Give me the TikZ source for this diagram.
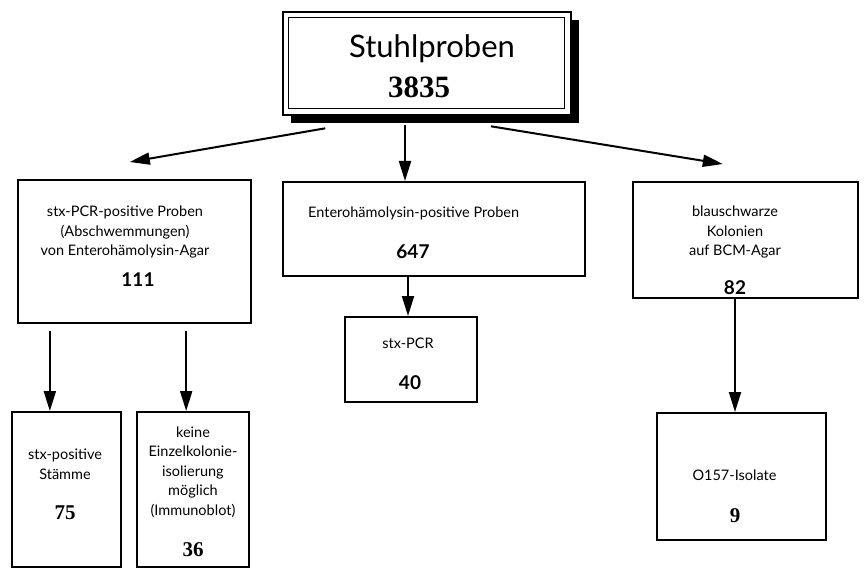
\documentclass[tikz,border=0pt]{standalone}
\usepackage{fontspec}
\setmainfont{Lato}
\newfontfamily\numserif{Liberation Serif}
\usetikzlibrary{arrows.meta,calc}
\tikzset{
  box/.style={draw=black, line width=2pt, fill=white, rectangle, inner sep=0pt},
  txt/.style={font=\fontsize{14.5}{19.5}\selectfont, align=center, inner sep=0pt},
  numsans/.style={font=\fontsize{19}{22}\selectfont\bfseries, inner sep=0pt},
  numser/.style={font=\fontsize{21}{22}\selectfont\numserif\bfseries, inner sep=0pt},
  arr/.style={line width=2pt, -{Triangle[length=20pt,width=12pt]}},
  shade/.style={fill=black},
}
\begin{document}
\begin{tikzpicture}[x=1pt,y=-1pt]
\useasboundingbox[fill=white] (0,0) rectangle (864,569);
% top box
\fill[shade] ($(427,63.5)+(144,-43)$) rectangle ($(427,63.5)+(152,60)$);
\fill[shade] ($(427,63.5)+(-136,51)$) rectangle ($(427,63.5)+(152,60)$);
\node[box, line width=2.6pt, minimum width=288, minimum height=103] (top) at (427,63.5) {};
\node[draw=black, line width=1.2pt, minimum width=276, minimum height=91, inner sep=0pt] (topin) at (426.5,63) {};
\node[font=\fontsize{31}{34}\selectfont, inner sep=0pt] (toptxt) at (432,49) {Stuhlproben};
\node[font=\fontsize{31}{34}\selectfont\numserif\bfseries, inner sep=0pt] (topnum) at (419,87) {3835};
% left box
\node[box, minimum width=233, minimum height=143] (left) at (134.5,251.5) {};
\node[txt] (lefttxt) at (125,232) {stx-PCR-positive Proben\\(Abschwemmungen)\\von Enterohämolysin-Agar};
\node[numsans] (leftnum) at (138,280) {111};
% middle box
\node[box, minimum width=302, minimum height=94] (mid) at (434,229) {};
\node[txt, anchor=west] (midtxt) at (308,213) {Enterohämolysin-positive Proben};
\node[numsans] (midnum) at (413,252) {647};
% right box
\node[box, minimum width=225, minimum height=116] (right) at (745.5,240) {};
\node[txt] (righttxt) at (735,232) {blauschwarze\\Kolonien\\auf BCM-Agar};
\node[numsans] (rightnum) at (735,288) {82};
% stx-PCR box
\node[box, minimum width=132, minimum height=85] (pcr) at (411,359.5) {};
\node[txt] (pcrtxt) at (408,343) {stx-PCR};
\node[numsans] (pcrnum) at (410,383) {40};
% O157 box
\node[box, minimum width=169, minimum height=127] (o157) at (741.5,476.5) {};
\node[txt] (o157txt) at (734.5,475) {O157-Isolate};
\node[numser] (o157num) at (735,516) {9};
% bottom-left boxes
\node[box, minimum width=109, minimum height=155] (s1) at (66.5,489.5) {};
\node[txt] (s1txt) at (65,464) {stx-positive\\Stämme};
\node[numser] (s1num) at (65,513) {75};
\node[box, minimum width=112, minimum height=155] (s2) at (193,489.5) {};
\node[txt] (s2txt) at (193,472) {keine\\Einzelkolonie-\\isolierung\\möglich\\(Immunoblot)};
\node[numser] (s2num) at (193,550) {36};
% connectors
\coordinate (tl) at ($(top.south west)!0.15!(top.south east)+(0,12)$);
\coordinate (tr) at ($(top.south west)!0.72!(top.south east)+(0,10)$);
\coordinate (lt) at ($(left.north west)!0.48!(left.north east)+(0,-17)$);
\coordinate (rt) at ($(right.north west)!0.40!(right.north east)+(0,-17)$);
\draw[arr] (tl) -- (lt);
\draw[arr] (tr) -- (rt);
\draw[arr] (top.south -| pcrnum) ++(-5,9) coordinate (tm) -- (tm |- mid.north);
\draw[arr] (mid.south -| pcrtxt) -- (pcrtxt |- pcr.north);
\draw[arr] (right.south -| rightnum) -- (rightnum |- o157.north);
\coordinate (a1) at ($(s1.north west)!0.35!(s1.north east)$);
\coordinate (a2) at ($(s2.north west)!0.44!(s2.north east)$);
\draw[arr, shorten <=7pt] (a1 |- left.south) -- (a1);
\draw[arr, shorten <=7pt] (a2 |- left.south) -- (a2);
\end{tikzpicture}
\end{document}
